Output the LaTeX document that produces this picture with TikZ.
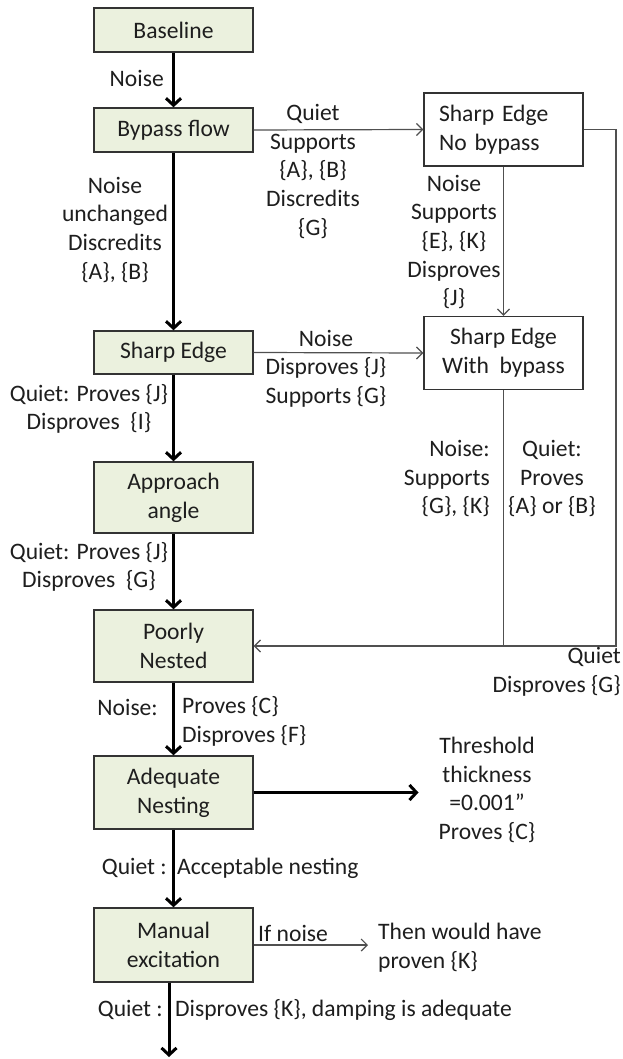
\documentclass[tikz,border=0pt]{standalone}
\usepackage{fontspec}
\setmainfont{Carlito}
\usetikzlibrary{arrows.meta}
\definecolor{boxfill}{HTML}{EBF1DE}
\definecolor{boxline}{HTML}{333333}
\definecolor{txt}{HTML}{1E1E1E}
\definecolor{conn}{HTML}{505050}
\begin{document}
\begin{tikzpicture}[x=1pt,y=-1pt,
 every node/.style={font=\fontsize{23.6}{28.7}\selectfont, text=txt, inner sep=0pt},
 gbox/.style={draw=boxline, line width=1.4pt, fill=boxfill, minimum width=159pt, align=center},
 wbox/.style={draw=boxline, line width=1.4pt, fill=white, minimum width=159pt, minimum height=73pt},
 lbl/.style={align=center},
 bigarrow/.style={draw=black, line width=3pt, -{Straight Barb[length=7pt,width=15pt]}},
 smallarrow/.style={draw=conn, line width=1.2pt, -{Straight Barb[length=6pt,width=12pt]}},
 plainline/.style={draw=conn, line width=1.2pt},
]
\useasboundingbox (0,0) rectangle (623,1059);
\fill[white] (0,0) rectangle (623,1059);

% boxes
\node[gbox, minimum height=44pt] (base) at (173.5,30) {Baseline};
\node[gbox, minimum height=44pt] (bypass) at (173.5,130) {Bypass flow};
\node[gbox, minimum height=43pt] (sharp) at (173.5,352.5) {Sharp Edge};
\node[gbox, minimum height=71pt] (approach) at (173.5,497.5) {Approach\\angle};
\node[gbox, minimum height=72pt] (poorly) at (173.5,646) {Poorly\\Nested};
\node[gbox, minimum height=73pt] (adequate) at (173.5,792.5) {Adequate\\Nesting};
\node[gbox, minimum height=74pt] (manual) at (173.5,945) {Manual\\excitation};
\node[wbox, text width=129pt, inner xsep=15pt, align=left] (nob) at (503.5,129.5) {Sharp Edge\\No bypass};
\node[wbox, align=center] (wb) at (503.5,353) {Sharp Edge\\With\ \ bypass};

% free text nodes
\node[lbl] (thr) at (487,790) {Threshold\\thickness\\=0.001”\\Proves \{C\}};
\node[anchor=west, align=left] (then) at (378,947.5) {Then would have\\proven \{K\}};
\coordinate (rc) at (616,646);
\coordinate (endtip) at (169,1057);

% connectors
\draw[bigarrow] (base) -- (bypass);
\draw[smallarrow] (bypass.east) -- (nob.west);
\draw[bigarrow] (bypass) -- (sharp);
\draw[smallarrow] (nob) -- (wb);
\draw[smallarrow] (sharp.east) -- (wb.west);
\draw[bigarrow] (sharp) -- (approach);
\draw[bigarrow] (approach) -- (poorly);
\draw[bigarrow] (poorly) -- (adequate);
\draw[bigarrow] (adequate) -- (manual);
\draw[smallarrow] (wb.south) |- (poorly.east);
\draw[plainline] (nob.east) -| (rc) -- (wb.south |- rc);
\draw[bigarrow, shorten >=20pt] (adequate.east) -- (adequate.east -| thr.west);
\draw[smallarrow, shorten >=10pt] (manual.east) -- (manual.east -| then.west);
\draw[bigarrow] (manual.south -| endtip) -- (endtip);

% labels
\node[anchor=east] (l1) at (164,78) {Noise};
\node[lbl] (l2) at (313,171.4) {Quiet\\Supports\\\{A\}, \{B\}\\Discredits\\\{G\}};
\node[lbl] (l3) at (115,229.75) {Noise\\unchanged\\Discredits\\\{A\}, \{B\}};
\node[lbl] (l4) at (454,242) {Noise\\Supports\\\{E\}, \{K\}\\Disproves\\\{J\}};
\node[lbl] (l5) at (326,368.5) {Noise\\Disproves \{J\}\\Supports \{G\}};
\node[lbl] (l6) at (89,409) {Quiet: Proves \{J\}\\Disproves\ \ \{I\}};
\node[lbl] (l7) at (89,567) {Quiet: Proves \{J\}\\Disproves\ \ \{G\}};
\node[anchor=east, align=right] (l8) at (490,478.5) {Noise:\\Supports\\\{G\}, \{K\}};
\node[lbl] (l9) at (552,478.5) {Quiet:\\Proves\\\{A\} or \{B\}};
\node[anchor=east, align=right] (l10) at (621,671.5) {Quiet\\Disproves \{G\}};
\node[anchor=east] (l11) at (158,707) {Noise:};
\node[anchor=west, align=left] (l12) at (182,721.5) {Proves \{C\}\\Disproves \{F\}};
\node[anchor=east] (l13) at (167,868) {Quiet :};
\node[anchor=west] (l14) at (177,868) {Acceptable nesting};
\node[anchor=west] (l15) at (258,933) {If noise};
\node[anchor=east] (l16) at (163,1010) {Quiet :};
\node[anchor=west] (l17) at (175,1010) {Disproves \{K\}, damping is adequate};
\end{tikzpicture}
\end{document}
